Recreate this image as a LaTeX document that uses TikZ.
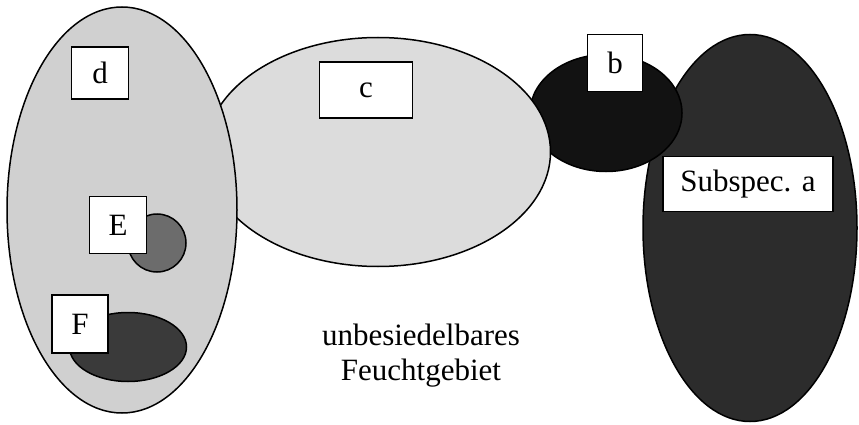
\documentclass[tikz,border=0pt]{standalone}
\usepackage{fontspec}
\setmainfont{Liberation Serif}
\usetikzlibrary{shapes.geometric}

\definecolor{areaLight}{HTML}{DCDCDC}
\definecolor{areaGrey}{HTML}{D0D0D0}
\definecolor{areaDark}{HTML}{2C2C2C}
\definecolor{areaBlack}{HTML}{121212}
\definecolor{areaMid}{HTML}{6C6C6C}
\definecolor{areaDeep}{HTML}{3A3A3A}

\tikzset{
  area/.style={ellipse, draw, line width=1.5pt, inner sep=0pt},
  tag/.style={rectangle, draw, fill=white, line width=1.5pt, inner sep=0pt,
    font=\fontsize{31}{35}\selectfont}
}

\begin{document}
\begin{tikzpicture}[x=1pt, y=-1pt]
        \useasboundingbox (0,0) rectangle (859,425);

        % Areas
        \node (a) [area, fill=areaDark, minimum width=214pt, minimum height=387pt] at (750,228) {};
        \node (b) [area, fill=areaBlack, minimum width=152pt, minimum height=117pt] at (606,113) {};
        \node (c) [area, fill=areaLight, minimum width=345pt, minimum height=229pt] at (378,152) {};
        \node (d) [area, fill=areaGrey, minimum width=230pt, minimum height=406pt] at (122,210) {};
        \node (e) [circle, draw, line width=1.5pt, inner sep=0pt, fill=areaMid, minimum size=58pt] at (157,243) {};
        \node (f) [area, fill=areaDeep, minimum width=117pt, minimum height=69pt] at (128,347) {};

        % Labels
        \node (dTag) [tag, minimum width=57pt, minimum height=52pt] at (100,73) {d};
        \node (cTag) [tag, minimum width=93pt, minimum height=56pt] at (366,90) {c};
        \node (bTag) [tag, minimum width=55pt, minimum height=57pt] at (615,63) {b};
        \node (aTag) [tag, minimum width=170pt, minimum height=55pt] at (748,184) {Subspec. a};
        \node (eTag) [tag, minimum width=57pt, minimum height=57pt] at (118,225) {E};
        \node (fTag) [tag, minimum width=56pt, minimum height=58pt] at (80,324) {F};

        \node (wet) [align=center, font=\fontsize{31}{35}\selectfont] at (421,356) {unbesiedelbares\\Feuchtgebiet};

    \end{tikzpicture}
\end{document}
